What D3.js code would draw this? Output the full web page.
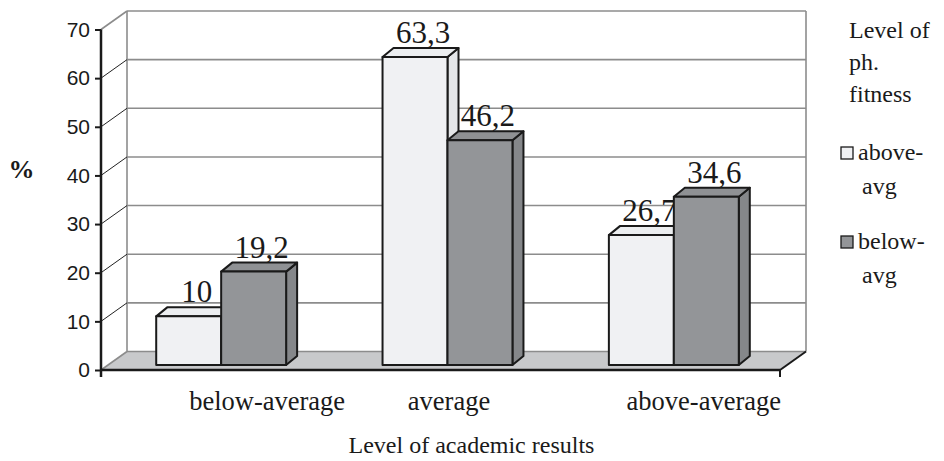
<!DOCTYPE html>
<html>
<head>
<meta charset="utf-8">
<script src="https://cdn.jsdelivr.net/npm/d3@7"></script>
<style>
  body { margin: 0; background: #fff; }
  svg { display: block; }
</style>
</head>
<body>
<svg id="chart" width="944" height="461"></svg>
<script>
// ---- data ----
const categories = ["below-average", "average", "above-average"];
const seriesNames = ["above-avg", "below-avg"];
const aboveAvg = [10, 63.3, 26.7];
const belowAvg = [19.2, 46.2, 34.6];
const yTicks = [0, 10, 20, 30, 40, 50, 60, 70];
const legendTitle = ["Level of", "ph.", "fitness"];
const xTitle = "Level of academic results";
const yTitle = "%";

// ---- layout ----
const serif = "'Liberation Serif', 'Times New Roman', serif";
const sans = "'Liberation Sans', Arial, sans-serif";
const plotLeft = 101, plotRight = 780, plotBottom = 370, plotTop = 29.5;
const DX = 26, DY = -18.5;          // depth of the wall/floor box
const bx = 7, by = -5;              // bars sit slightly into the floor
const bdx = 11, bdy = -9;           // depth of each bar
const colors = { "above-avg": { front: "#f0f1f3", top: "#eceef0", side: "#e4e6e8" },
                 "below-avg": { front: "#939598", top: "#8f9194", side: "#85878a" } };
const catNudge = [46, 1.5, 30];     // category label offsets along x

const svg = d3.select("#chart");
const y = d3.scaleLinear().domain([0, 70]).range([plotBottom, plotTop]);
const x0 = d3.scaleBand().domain(categories).range([plotLeft, plotRight]);
const groupW = x0.bandwidth() * 0.574;
const x1 = d3.scaleBand().domain(seriesNames).range([0, groupW]);
const values = { "above-avg": aboveAvg, "below-avg": belowAvg };
const pts = a => a.map(p => p.join(",")).join(" ");

// back wall gridlines
svg.append("g").selectAll("line").data(yTicks.filter(v => v > 0)).join("line")
  .attr("x1", plotLeft + DX).attr("x2", plotRight + DX)
  .attr("y1", v => y(v) + DY).attr("y2", v => y(v) + DY)
  .attr("stroke", "#8c8c8c").attr("stroke-width", 1.6);

// wall edges
[plotLeft + DX, plotRight + DX].forEach(xx => {
  svg.append("line").attr("x1", xx).attr("x2", xx)
    .attr("y1", y(70) + DY).attr("y2", y(0) + DY)
    .attr("stroke", "#8c8c8c").attr("stroke-width", 1.6);
});

// floor
svg.append("polygon")
  .attr("points", pts([[plotLeft, y(0)], [plotLeft + DX, y(0) + DY], [plotRight + DX, y(0) + DY], [plotRight, y(0)]]))
  .attr("fill", "#c8c9cb").attr("stroke", "none");
svg.append("line").attr("x1", plotLeft + DX).attr("x2", plotRight + DX)
  .attr("y1", y(0) + DY).attr("y2", y(0) + DY)
  .attr("stroke", "#8c8c8c").attr("stroke-width", 1.6);

// side wall diagonals at each tick
svg.append("g").selectAll("line").data(yTicks).join("line")
  .attr("x1", plotLeft).attr("x2", plotLeft + DX)
  .attr("y1", v => y(v)).attr("y2", v => y(v) + DY)
  .attr("stroke", v => (v === 0 || v === 70) ? "#8c8c8c" : "#222")
  .attr("stroke-width", v => (v === 0 || v === 70) ? 1.6 : 1);

// floor front-right diagonal
svg.append("line").attr("x1", plotRight).attr("x2", plotRight + DX)
  .attr("y1", y(0)).attr("y2", y(0) + DY)
  .attr("stroke", "#1a1a1a").attr("stroke-width", 2);

// y axis
const yAxis = svg.append("g").attr("transform", `translate(${plotLeft},0)`)
  .call(d3.axisLeft(y).tickValues(yTicks).tickSize(6).tickPadding(5));
yAxis.select(".domain").attr("stroke", "#1a1a1a").attr("stroke-width", 2.5)
  .attr("d", `M0,${y(70)}V${y(0) + 7}`);
yAxis.selectAll(".tick line").attr("stroke", "#1a1a1a").attr("stroke-width", 2);
yAxis.selectAll(".tick text").attr("font-family", sans).attr("font-size", 21).attr("fill", "#1a1a1a");

// x axis
svg.append("line").attr("x1", plotLeft).attr("x2", plotRight)
  .attr("y1", y(0)).attr("y2", y(0))
  .attr("stroke", "#1a1a1a").attr("stroke-width", 2.5);
svg.append("line").attr("x1", plotRight).attr("x2", plotRight)
  .attr("y1", y(0)).attr("y2", y(0) + 7)
  .attr("stroke", "#1a1a1a").attr("stroke-width", 2);

// bars with value labels
const barsG = svg.append("g");
categories.forEach((cat, i) => {
  seriesNames.forEach(s => {
    const v = values[s][i];
    const w = x1.bandwidth();
    const xL = x0(cat) + (x0.bandwidth() - groupW) / 2 + bx + x1(s);
    const base = y(0) + by;
    const t = y(v) + by;
    const g = barsG.append("g")
      .attr("stroke", "#1a1a1a").attr("stroke-width", 2).attr("stroke-linejoin", "round");
    g.append("polygon")
      .attr("points", pts([[xL + w, t], [xL + w + bdx, t + bdy], [xL + w + bdx, base + bdy], [xL + w, base]]))
      .attr("fill", colors[s].side);
    g.append("polygon")
      .attr("points", pts([[xL, t], [xL + bdx, t + bdy], [xL + w + bdx, t + bdy], [xL + w, t]]))
      .attr("fill", colors[s].top);
    g.append("rect").attr("x", xL).attr("y", t).attr("width", w).attr("height", base - t)
      .attr("fill", colors[s].front);
    barsG.append("text")
      .attr("x", xL + w / 2 + 8).attr("y", t - 14)
      .attr("text-anchor", "middle")
      .attr("font-family", serif).attr("font-size", 31).attr("fill", "#1a1a1a")
      .text(String(v).replace(".", ","));
  });
});

// category labels
svg.append("g").selectAll("text").data(categories).join("text")
  .attr("x", (d, i) => x0(d) + x0.bandwidth() / 2 + bx + catNudge[i])
  .attr("y", 410)
  .attr("text-anchor", "middle")
  .attr("font-family", serif).attr("font-size", 26.5).attr("fill", "#1a1a1a")
  .text(d => d);

// axis titles
svg.append("text").attr("x", (plotLeft + plotRight) / 2 + 31).attr("y", 453)
  .attr("text-anchor", "middle")
  .attr("font-family", serif).attr("font-size", 24).attr("fill", "#1a1a1a")
  .text(xTitle);
svg.append("text").attr("x", 21.5).attr("y", 178)
  .attr("text-anchor", "middle")
  .attr("font-family", serif).attr("font-weight", "bold").attr("font-size", 26).attr("fill", "#1a1a1a")
  .text(yTitle);

// legend
const lg = svg.append("g").attr("font-family", serif).attr("font-size", 24).attr("fill", "#1a1a1a");
lg.selectAll("text.title").data(legendTitle).join("text").attr("class", "title")
  .attr("x", 849).attr("y", (d, i) => 38 + i * 32)
  .text(d => d);
const itemY = [160, 249];
seriesNames.forEach((s, i) => {
  lg.append("rect").attr("x", 841).attr("y", itemY[i] - 13).attr("width", 12).attr("height", 12)
    .attr("fill", colors[s].front).attr("stroke", "#1a1a1a").attr("stroke-width", 1.3);
  const parts = s.split("-");
  lg.append("text").attr("x", 858).attr("y", itemY[i]).text(parts[0] + "-");
  lg.append("text").attr("x", 862).attr("y", itemY[i] + 34).text(parts[1]);
});
</script>
</body>
</html>
